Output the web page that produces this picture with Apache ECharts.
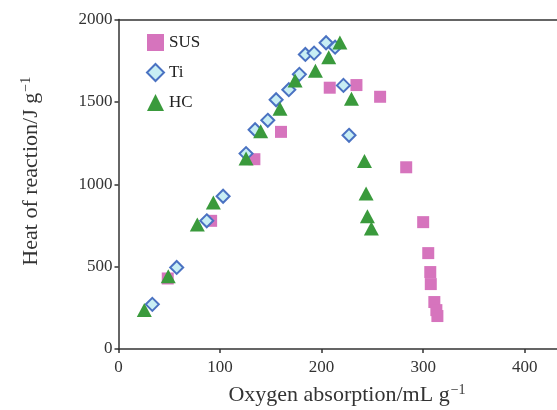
<!DOCTYPE html>
<html><head><meta charset="utf-8">
<script src="https://cdn.jsdelivr.net/npm/echarts@6/dist/echarts.min.js"></script>
<style>html,body{margin:0;padding:0;background:#fff}#c{width:557px;height:410px}</style>
</head><body><div id="c"></div>
<script>
const xTicks = [0, 100, 200, 300, 400];
const yTicks = [0, 500, 1000, 1500, 2000];
const susX = [48.5, 91.2, 133.8, 160, 208, 234.3, 257.6, 283.3, 300, 305, 307, 307.5, 311, 313, 314];
const susY = [428, 778, 1152, 1318, 1586, 1602, 1531, 1103, 770, 582, 467, 394, 285, 236, 200];
const tiX = [33.3, 57.3, 86.9, 103, 125.6, 134.5, 147, 155.2, 167.7, 178.1, 184, 192.6, 204.4, 213.3, 221.5, 227];
const tiY = [271, 495, 778, 927, 1186, 1331, 1388, 1513, 1574, 1667, 1788, 1796, 1859, 1832, 1600, 1297];
const hcX = [25.4, 49, 77.6, 93.4, 125.6, 140, 159, 173.9, 193.9, 207, 218, 229.4, 242.2, 243.8, 245.1, 249];
const hcY = [236, 442, 756, 889, 1156, 1321, 1459, 1630, 1689, 1771, 1861, 1519, 1141, 944, 806, 731];

const pair = (xs, ys) => xs.map((x, i) => [x, ys[i]]);
const font = '"Liberation Serif", "DejaVu Serif", serif';
const chart = echarts.init(document.getElementById('c'));
chart.setOption({
  animation: false,
  textStyle: { fontFamily: font },
  grid: { left: 118.5, top: 19.5, width: 457, height: 329.5, containLabel: false, outerBoundsMode: 'none' },
  legend: {
    orient: 'vertical', left: 141, top: 29, itemGap: 12, itemWidth: 17, itemHeight: 17,
    textStyle: { fontFamily: font, fontSize: 17, color: '#222' },
    data: ['SUS', 'Ti', 'HC']
  },
  xAxis: [{
    type: 'value', min: 0, max: 450, interval: 100,
    axisLine: { show: true, lineStyle: { color: '#333', width: 1.5 } },
    axisTick: { show: true, length: 4, lineStyle: { color: '#333', width: 1.5 }, customValues: xTicks },
    axisLabel: { fontFamily: font, fontSize: 17, color: '#333', margin: 10, customValues: xTicks,
      formatter: v => String(v) },
    splitLine: { show: false },
    name: '{a|Oxygen absorption/mL g}{s|−1}',
    nameLocation: 'middle', nameGap: 34,
    nameTextStyle: { rich: {
      a: { fontFamily: font, fontSize: 22, color: '#333' },
      s: { fontFamily: font, fontSize: 14, color: '#333', verticalAlign: 'top', padding: [0, 0, 10, 1] }
    } }
  }, {
    type: 'value', position: 'top', min: 0, max: 450,
    axisLine: { show: true, onZero: false, lineStyle: { color: '#333', width: 1.5 } },
    axisTick: { show: false }, axisLabel: { show: false }, splitLine: { show: false }
  }],
  yAxis: {
    type: 'value', min: 0, max: 2000, interval: 500,
    axisLine: { show: true, lineStyle: { color: '#333', width: 1.5 } },
    axisTick: { show: true, length: 4, lineStyle: { color: '#333', width: 1.5 }, customValues: yTicks },
    axisLabel: { fontFamily: font, fontSize: 17, color: '#333', margin: 6, customValues: yTicks,
      formatter: v => String(v) },
    splitLine: { show: false },
    name: '{a|Heat of reaction/J g}{s|−1}',
    nameLocation: 'middle', nameGap: 75, nameRotate: 90,
    nameTextStyle: { padding: [0, 0, 0, 26], rich: {
      a: { fontFamily: font, fontSize: 22, color: '#333' },
      s: { fontFamily: font, fontSize: 14, color: '#333', verticalAlign: 'top', padding: [0, 0, 10, 1] }
    } }
  },
  series: [
    { name: 'SUS', type: 'scatter', symbol: 'rect', symbolSize: 12, data: pair(susX, susY),
      itemStyle: { color: '#d674bd', opacity: 1 } },
    { name: 'Ti', type: 'scatter', symbol: 'diamond', symbolSize: 13, data: pair(tiX, tiY),
      itemStyle: { color: '#c8eef4', borderColor: '#4a72c2', borderWidth: 2, opacity: 1 } },
    { name: 'HC', type: 'scatter', symbol: 'triangle', symbolSize: [15, 14], data: pair(hcX, hcY),
      itemStyle: { color: '#3a9a3c', opacity: 1 } }
  ]
});
</script></body></html>
